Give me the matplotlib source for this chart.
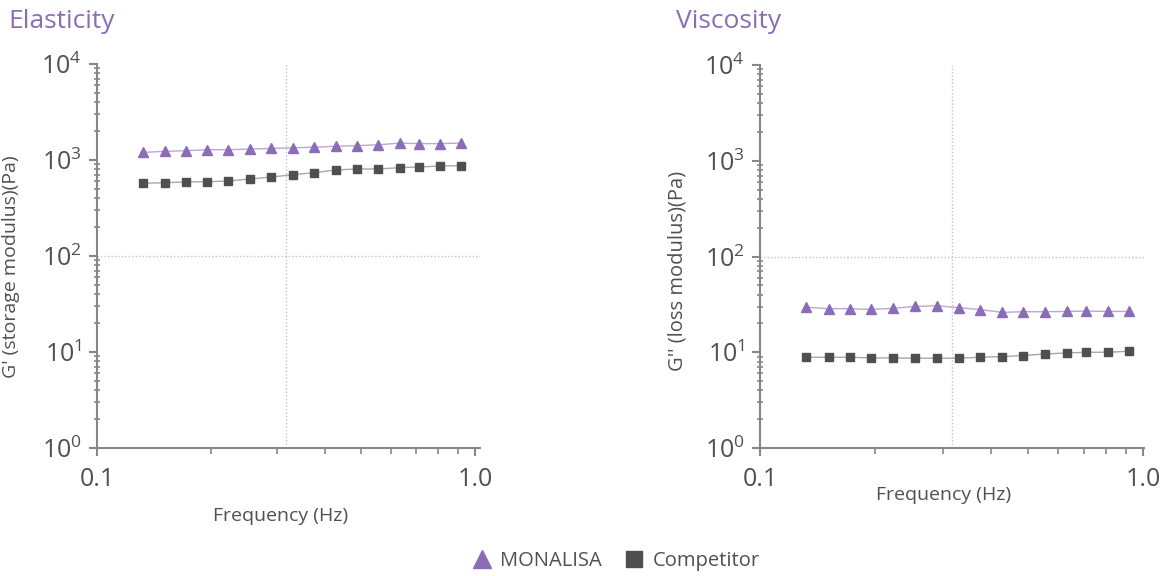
import math
import matplotlib
matplotlib.use("Agg")
import matplotlib.pyplot as plt
from matplotlib.lines import Line2D
from matplotlib.ticker import LogLocator, FuncFormatter, NullFormatter, FixedLocator

plt.rcParams['font.family'] = ['Open Sans', 'DejaVu Sans']

# frequency sweep (Hz)
freq = [0.132, 0.151, 0.172, 0.195, 0.222, 0.254, 0.289, 0.330, 0.376,
        0.428, 0.486, 0.554, 0.632, 0.710, 0.808, 0.920]

# G' storage modulus (Pa)
monalisa_g1 = [1200, 1230, 1250, 1280, 1280, 1300, 1320, 1340, 1360,
               1390, 1410, 1440, 1500, 1480, 1480, 1500]
competitor_g1 = [572, 580, 590, 594, 604, 634, 665, 703, 738,
                 787, 806, 806, 832, 846, 866, 872]

# G'' loss modulus (Pa)
monalisa_g2 = [29.6, 28.5, 28.5, 28.0, 28.7, 30.1, 30.6, 29.2, 27.9,
               26.1, 26.5, 26.5, 26.7, 26.9, 26.7, 26.7]
competitor_g2 = [8.87, 8.87, 8.87, 8.72, 8.72, 8.66, 8.66, 8.66, 8.87,
                 9.02, 9.24, 9.60, 9.83, 10.0, 10.0, 10.24]

PURPLE = '#8a6db6'
PURPLE_LINE = '#b9a8d6'
DARK = '#4f4f4f'
GRAY_LINE = '#a8a8a8'
AXIS = '#878787'
TEXT = '#505050'

fig = plt.figure(figsize=(11.65, 5.76), dpi=100)


def style_axis(ax, xmax):
    ax.set_xscale('log')
    ax.set_yscale('log')
    ax.set_xlim(0.1, xmax)
    ax.set_ylim(1, 1e4)
    for s in ('top', 'right'):
        ax.spines[s].set_visible(False)
    for s in ('left', 'bottom'):
        ax.spines[s].set_color(AXIS)
        ax.spines[s].set_linewidth(1.5)
    ax.xaxis.set_major_locator(FixedLocator([0.1, 1.0]))
    ax.xaxis.set_major_formatter(FuncFormatter(lambda v, p: f'{v:.1f}'))
    ax.xaxis.set_minor_locator(LogLocator(base=10, subs=range(2, 10)))
    ax.xaxis.set_minor_formatter(NullFormatter())
    ax.yaxis.set_major_locator(LogLocator(base=10, numticks=10))
    ax.yaxis.set_major_formatter(FuncFormatter(
        lambda v, p: r'$\mathregular{10^{%d}}$' % round(math.log10(v))))
    ax.yaxis.set_minor_locator(LogLocator(base=10, subs=range(2, 10), numticks=10))
    ax.yaxis.set_minor_formatter(NullFormatter())
    ax.tick_params(which='major', length=6, width=1.5, color=AXIS,
                   labelsize=18, labelcolor=TEXT, pad=5)
    ax.tick_params(axis='x', which='major', pad=8)
    ax.tick_params(which='minor', length=4, width=1.2, color=AXIS)
    ax.tick_params(axis='y', which='minor', direction='inout', length=4)
    ax.axvline(10 ** -0.5, color='#c4c4c4', lw=1, ls=(0, (1, 1.5)), zorder=0)
    ax.axhline(100, color='#c4c4c4', lw=1, ls=(0, (1, 1.5)), zorder=0)


def draw_series(ax, y_mona, y_comp):
    ax.plot(freq, y_mona, color=PURPLE_LINE, lw=1, zorder=2)
    ax.plot(freq, y_mona, ls='none', marker='^', ms=7.5, color=PURPLE,
            mec=PURPLE, zorder=3)
    ax.plot(freq, y_comp, color=GRAY_LINE, lw=1, zorder=2)
    ax.plot(freq, y_comp, ls='none', marker='s', ms=6, color=DARK,
            mec=DARK, zorder=3)


# Elasticity panel
ax1 = fig.add_axes([97 / 1165, 1 - 448 / 576, 383 / 1165, 384 / 576])
style_axis(ax1, 1.031)
draw_series(ax1, monalisa_g1, competitor_g1)
ax1.text(0.478, -0.177, 'Frequency (Hz)', transform=ax1.transAxes,
         ha='center', va='center', fontsize=14, color=TEXT)
ax1.set_ylabel("G' (storage modulus)(Pa)", fontsize=14, color=TEXT)
ax1.yaxis.set_label_coords(-0.201, 0.472)
fig.text(8 / 1165, 1 - 22 / 576, 'Elasticity', ha='left', va='center',
         fontsize=19, color=PURPLE)

# Viscosity panel
ax2 = fig.add_axes([760 / 1165, 1 - 448 / 576, 384 / 1165, 383 / 576])
style_axis(ax2, 1.005)
draw_series(ax2, monalisa_g2, competitor_g2)
ax2.text(0.477, -0.123, 'Frequency (Hz)', transform=ax2.transAxes,
         ha='center', va='center', fontsize=14, color=TEXT)
ax2.set_ylabel("G'' (loss modulus)(Pa)", fontsize=14.5, color=TEXT)
ax2.yaxis.set_label_coords(-0.188, 0.462)
fig.text(676 / 1165, 1 - 22 / 576, 'Viscosity', ha='left', va='center',
         fontsize=19, color=PURPLE)

handles = [
    Line2D([], [], ls='none', marker='^', ms=13, color=PURPLE, label='MONALISA'),
    Line2D([], [], ls='none', marker='s', ms=11, color=DARK, label='Competitor'),
]
fig.legend(handles=handles, loc='center', bbox_to_anchor=(615 / 1165, 1 - 561 / 576),
           ncol=2, frameon=False, fontsize=14.5, labelcolor=TEXT,
           handletextpad=0.3, columnspacing=1.0, handlelength=1.2)

fig.savefig('out.png', dpi=100)
